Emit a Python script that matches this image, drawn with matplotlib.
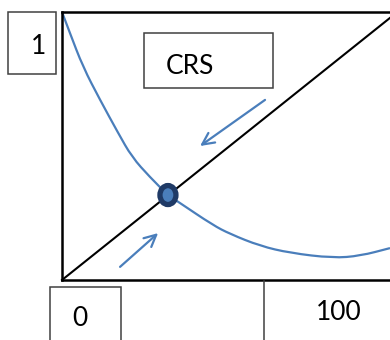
import matplotlib
matplotlib.use("Agg")
import matplotlib.pyplot as plt
from matplotlib.patches import Rectangle, Ellipse, PathPatch
from matplotlib.path import Path

# curve (x: 0..100, y: 0..1)
curve_x = [0, 2.4, 6.4, 11.6, 17.1, 21.3, 26.8, 32.3, 36.0, 46.0, 51.2, 60.4, 69.5, 82.6, 90.9, 100]
curve_y = [1.0, 0.922, 0.795, 0.672, 0.549, 0.459, 0.384, 0.317, 0.287, 0.205, 0.172, 0.127, 0.101, 0.082, 0.090, 0.119]

diag_x = [0, 100]
diag_y = [0, 0.978]

eq_point = (32.3, 0.317)

# arrows: (start, end)
arrow_down = ((61.9, 0.672), (42.1, 0.50))
arrow_up = ((17.7, 0.049), (29.3, 0.175))

box_labels = ["1", "CRS", "0", "100"]

W, H = 390, 340
BLUE = "#4a7ebb"
NAVY = "#1f3a66"
EDGE = "#404040"

fig = plt.figure(figsize=(W / 100, H / 100), dpi=100)
plt.rcParams['font.family'] = ['Lato', 'DejaVu Sans']


def px(x, y):
    return x / W, 1 - y / H


# main plot area
ax = fig.add_axes([62 / W, 60 / H, (W - 62) / W, 268 / H])
ax.set_xlim(0, 100)
ax.set_ylim(0, 1)
ax.set_xticks([])
ax.set_yticks([])
ax.spines['right'].set_visible(False)
for s in ['left', 'top', 'bottom']:
    ax.spines[s].set_linewidth(1.8)
    ax.spines[s].set_color("black")

ax.plot(diag_x, diag_y, color="black", lw=1.5, clip_on=False)

# smooth the read points with quadratic segments
pts = list(zip(curve_x, curve_y))
verts = [pts[0]]
codes = [Path.MOVETO]
for i in range(1, len(pts) - 1):
    mid = ((pts[i][0] + pts[i + 1][0]) / 2, (pts[i][1] + pts[i + 1][1]) / 2)
    verts += [pts[i], mid]
    codes += [Path.CURVE3, Path.CURVE3]
verts.append(pts[-1])
codes.append(Path.LINETO)
ax.add_patch(PathPatch(Path(verts, codes), fill=False, edgecolor=BLUE, lw=1.6,
                       clip_on=False))

for (x0, y0), (x1, y1) in [arrow_down, arrow_up]:
    ax.annotate("", xy=(x1, y1), xytext=(x0, y0),
                arrowprops=dict(arrowstyle="->,head_length=0.85,head_width=0.42",
                                color=BLUE, lw=1.6, shrinkA=0, shrinkB=0))

ax.add_patch(Ellipse(eq_point, 16 / 3.28, 19 / 268, facecolor=BLUE,
                     edgecolor=NAVY, lw=3.8, zorder=5))


# text boxes (pixel coordinates)
def box(x0, y0, x1, y1):
    fx0, fy1 = px(x0, y0)
    fx1, fy0 = px(x1, y1)
    fig.add_artist(Rectangle((fx0, fy0), fx1 - fx0, fy1 - fy0, fill=False,
                             edgecolor=EDGE, lw=1.1, transform=fig.transFigure))


box(8, 12, 56, 74)
box(144, 33, 273, 88)
box(50, 287, 121, 348)
fig.add_artist(plt.Line2D([264 / W, 264 / W], [1 - 281 / H, 0], color=EDGE, lw=1.1,
                          transform=fig.transFigure))

for label, (x, y) in zip(box_labels, [(39, 46), (190, 66), (80, 318), (339, 313)]):
    fx, fy = px(x, y)
    fig.text(fx, fy, label, fontsize=19, ha="center", va="center", color="black")

fig.savefig("out.png", dpi=100)
